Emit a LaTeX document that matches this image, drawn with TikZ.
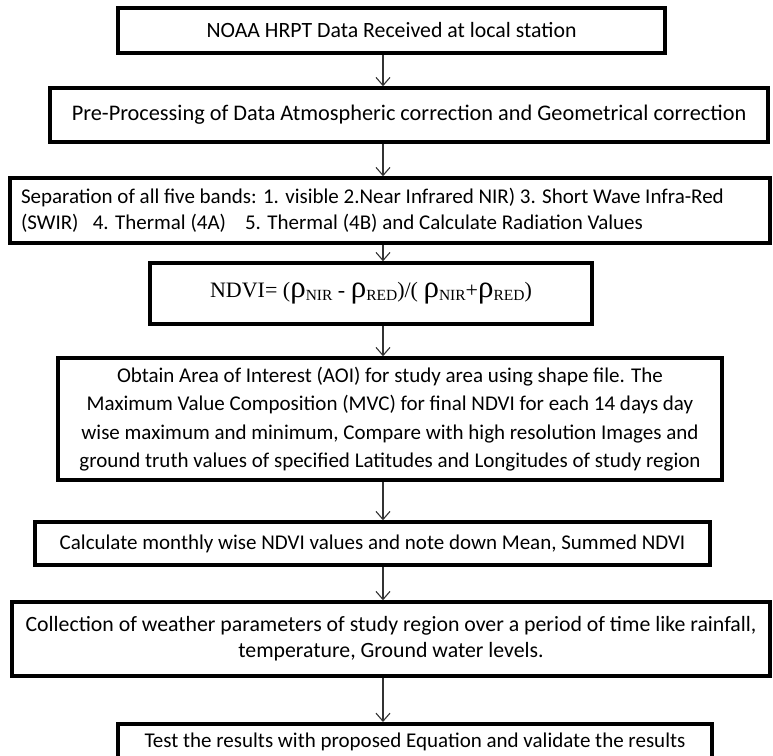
\documentclass[tikz,border=0pt]{standalone}
\usepackage{fontspec}
\setmainfont{Carlito}
\newfontfamily\formfont{Liberation Serif}
\usetikzlibrary{arrows.meta, positioning}

% rho with a small-caps subscript, as in the formula box
\newcommand{\rhosub}[1]{{\fontsize{31}{31}\selectfont ρ}\raisebox{-3pt}{\fontsize{15.5}{15.5}\selectfont #1}}

\begin{document}
\begin{tikzpicture}[x=1pt, y=-1pt,
    stepbox/.style={rectangle, draw, line width=3.5pt, fill=white, align=center,
                    inner sep=4pt, font=\fontsize{21.8}{26}\selectfont},
    flow/.style={-{Straight Barb[length=8pt, width=14pt]}, line width=1.1pt, draw=black!80}]
    \useasboundingbox (0,0) rectangle (773,755);

    % Steps
    \node[stepbox, minimum width=547pt, minimum height=45pt] (noaa) at (391.5, 30.5)
        {NOAA HRPT Data Received at local station};
    \node[stepbox, minimum width=718pt, minimum height=54pt, font=\fontsize{22.3}{26}\selectfont] (prep) at (409, 115)
        {Pre-Processing of Data Atmospheric correction and Geometrical correction};
    \node[stepbox, minimum width=760pt, minimum height=65pt, align=flush left, text width=738pt,
          font=\fontsize{21}{26}\selectfont] (bands) at (390, 210.5)
        {Separation of all five bands: 1. visible 2.Near Infrared NIR) 3. Short Wave Infra-Red\\
         (SWIR)\ \ \ 4. Thermal (4A)\ \ \ \ 5. Thermal (4B) and Calculate Radiation Values};
    \node[stepbox, minimum width=442pt, minimum height=61pt, font=\formfont\fontsize{22}{26}\selectfont] (ndvi) at (371, 293.5)
        {NDVI= (\rhosub{NIR} - \rhosub{RED})/( \rhosub{NIR}+\rhosub{RED})};
    \node[stepbox, minimum width=664pt, minimum height=122pt, font=\fontsize{21}{28.5}\selectfont] (aoi) at (390, 419)
        {Obtain Area of Interest (AOI) for study area using shape file. The\\
         Maximum Value Composition (MVC) for final NDVI for each 14 days day\\
         wise maximum and minimum, Compare with high resolution Images and\\
         ground truth values of specified Latitudes and Longitudes of study region};
    \node[stepbox, minimum width=675pt, minimum height=43pt, font=\fontsize{21}{26}\selectfont] (month) at (372.5, 543.5)
        {Calculate monthly wise NDVI values and note down Mean, Summed NDVI};
    \node[stepbox, minimum width=758pt, minimum height=74pt] (weather) at (391, 639)
        {Collection of weather parameters of study region over a period of time like rainfall,\\
         temperature, Ground water levels.};
    \node[stepbox, minimum width=594pt, anchor=north, inner ysep=9pt, text depth=60pt,
          font=\fontsize{21}{26}\selectfont] (test) at (415, 722)
        {Test the results with proposed Equation and validate the results};

    % Connections
    \coordinate (axis) at (383, 0);
    \draw[flow] (noaa.south -| axis) -- (prep.north -| axis);
    \draw[flow] (prep.south -| axis) -- (bands.north -| axis);
    \draw[flow] (bands.south -| axis) -- (ndvi.north -| axis);
    \draw[flow] (ndvi.south -| axis) -- (aoi.north -| axis);
    \draw[flow] (aoi.south -| axis) -- (month.north -| axis);
    \draw[flow] (month.south -| axis) -- (weather.north -| axis);
    \draw[flow] (weather.south -| axis) -- (test.north -| axis);
\end{tikzpicture}
\end{document}
